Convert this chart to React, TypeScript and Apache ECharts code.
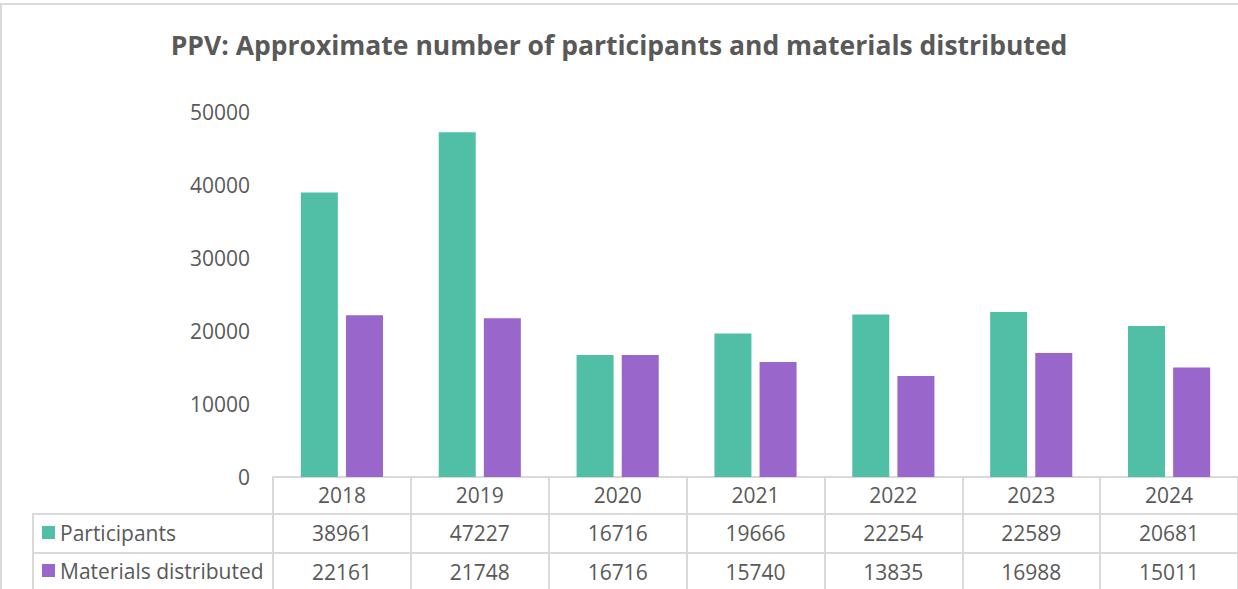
import React, { useEffect, useRef } from "react";
import * as echarts from "echarts";

const years = ["2018", "2019", "2020", "2021", "2022", "2023", "2024"];
const participants = [38961, 47227, 16716, 19666, 22254, 22589, 20681];
const materials = [22161, 21748, 16716, 15740, 13835, 16988, 15011];
const seriesNames = ["Participants", "Materials distributed"];
const titleText = "PPV: Approximate number of participants and materials distributed";

const TEAL = "#50BFA5";
const PURPLE = "#9966CC";
const TEXT = "#595959";
const LINE = "#D9D9D9";
const FONT = "'Open Sans', 'Noto Sans', sans-serif";

export default function App() {
  const ref = useRef<HTMLDivElement>(null);
  useEffect(() => {
    if (!ref.current) return;
    const chart = echarts.init(ref.current, null, { renderer: "svg" });
    const tableAxis = (data: string[], offset: number, tickLen: number, margin: number) => ({
      type: "category",
      data,
      position: "bottom",
      offset,
      boundaryGap: true,
      axisLine: { show: true, lineStyle: { color: LINE, width: 2 } },
      axisTick: { show: true, interval: 0, length: tickLen, lineStyle: { color: LINE, width: 2 } },
      axisLabel: { interval: 0, color: TEXT, fontSize: 21, fontFamily: FONT, margin },
      splitLine: { show: false },
    });
    const legendFor = (name: string, top: number) => ({
      orient: "vertical",
      left: 42,
      top,
      padding: 0,
      itemWidth: 13,
      itemHeight: 13,
      icon: "rect",
      selectedMode: false,
      data: [name],
      textStyle: { color: TEXT, fontSize: 21, lineHeight: 21, fontFamily: FONT },
    });
    chart.setOption({
      animation: false,
      backgroundColor: "#ffffff",
      textStyle: { fontFamily: FONT },
      title: {
        text: titleText,
        left: "center",
        top: 26,
        textStyle: { color: TEXT, fontSize: 26.5, fontWeight: "bold", fontFamily: FONT },
      },
      legend: [legendFor(seriesNames[0], 522), legendFor(seriesNames[1], 560)],
      grid: { left: 273, right: -2, top: 112, bottom: 112, containLabel: false },
      xAxis: [
        tableAxis(years, 0, 37, 7),
        tableAxis(participants.map(String), 37, 39, 8),
        tableAxis(materials.map(String), 76, 40, 8),
      ],
      yAxis: {
        type: "value",
        min: 0,
        max: 50000,
        interval: 10000,
        axisLine: { show: false },
        axisTick: { show: false },
        splitLine: { show: false },
        axisLabel: {
          color: TEXT,
          fontSize: 21,
          fontFamily: FONT,
          margin: 23,
          formatter: (v: number) => String(v),
        },
      },
      series: [
        {
          name: seriesNames[0],
          type: "bar",
          xAxisIndex: 0,
          data: participants,
          barWidth: 37,
          barGap: "22%",
          itemStyle: { color: TEAL },
        },
        {
          name: seriesNames[1],
          type: "bar",
          xAxisIndex: 0,
          data: materials,
          barWidth: 37,
          barGap: "22%",
          itemStyle: { color: PURPLE },
        },
      ],
      graphic: [
        {
          type: "rect",
          shape: { x: 1, y: 4, width: 1400, height: 800 },
          style: { fill: "none", stroke: LINE, lineWidth: 2 },
          silent: true,
        },
        {
          type: "line",
          shape: { x1: 33, y1: 514, x2: 273, y2: 514 },
          style: { stroke: LINE, lineWidth: 2 },
          silent: true,
        },
        {
          type: "line",
          shape: { x1: 33, y1: 553, x2: 273, y2: 553 },
          style: { stroke: LINE, lineWidth: 2 },
          silent: true,
        },
        {
          type: "line",
          shape: { x1: 33, y1: 513, x2: 33, y2: 600 },
          style: { stroke: LINE, lineWidth: 2 },
          silent: true,
        },
      ],
    });
    return () => chart.dispose();
  }, []);
  return (
    <div
      ref={ref}
      style={{ position: "fixed", left: 0, top: 0, width: 1238, height: 589, background: "#fff" }}
    />
  );
}
